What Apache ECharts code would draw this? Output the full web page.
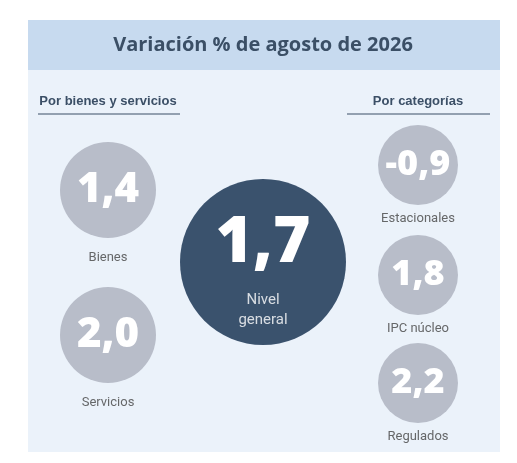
<!DOCTYPE html><html><head><meta charset="utf-8">
<script src="https://cdn.jsdelivr.net/npm/echarts@6/dist/echarts.min.js"></script>
<style>html,body{margin:0;padding:0;background:#fff}#c{width:517px;height:463px}</style></head><body><div id="c"></div>
<script>
const title = 'Variación % de agosto de 2026';
const groupTitles = ['Por bienes y servicios', 'Por categorías'];
const names = ['Bienes', 'Servicios', 'Nivel\ngeneral', 'Estacionales', 'IPC núcleo', 'Regulados'];
const values = [1.4, 2.0, 1.7, -0.9, 1.8, 2.2];
// layout (position x, y, radius) per item
const layout = [[108,190,48],[108,335,48],[263,262,83],[418,165,40],[418,275,40],[418,383,40]];
const fmt = v => v.toFixed(1).replace('.', ',');
const ink = '#3b4f66';
const grey = '#b8bdc9', navy = '#3a526d';
const data = values.map((v,i)=>({
  value:[layout[i][0], layout[i][1], v], symbolSize: layout[i][2]*2,
  itemStyle:{color: i===2?navy:grey, opacity:1},
  label:{show:true, position:'inside', formatter: fmt(v), color:'#fff', fontWeight:800,
    fontFamily:'"Open Sans", sans-serif', fontSize: i===2?64:(i<2?42:36), offset: i===2?[0,-18]:[0,0]}
}));
const labelData = names.map((n,i)=>{
  const big = i===2;
  return {value:[layout[i][0], big ? layout[i][1]+48 : layout[i][1]+layout[i][2]+(i<2?20:14), 0],
    label:{show:true, formatter:n, color: big?'#fff':'#444', fontSize: big?15:13, lineHeight: big?20:16,
      fontFamily:'"Liberation Sans Narrow", Roboto, sans-serif'}};
});
const chart = echarts.init(document.getElementById('c'));
chart.setOption({
  animation:false,
  graphic:[
    {type:'rect', shape:{x:28,y:20,width:472,height:432}, style:{fill:'#ebf2fa'}, z:-10},
    {type:'rect', shape:{x:28,y:20,width:472,height:50}, style:{fill:'#c7daef'}, z:-9},
    {type:'text', x:263, y:45, style:{text:title, fill:ink, font:'bold 20px "Open Sans", sans-serif', textAlign:'center', textVerticalAlign:'middle'}},
    {type:'text', x:108, y:101, style:{text:groupTitles[0], fill:ink, font:'bold 13px "Liberation Sans Narrow", sans-serif', textAlign:'center', textVerticalAlign:'middle'}},
    {type:'text', x:418, y:101, style:{text:groupTitles[1], fill:ink, font:'bold 13px "Liberation Sans Narrow", sans-serif', textAlign:'center', textVerticalAlign:'middle'}},
    {type:'line', shape:{x1:38,y1:114,x2:180,y2:114}, style:{stroke:ink, lineWidth:1}},
    {type:'line', shape:{x1:347,y1:114,x2:490,y2:114}, style:{stroke:ink, lineWidth:1}}
  ],
  grid:{left:0,right:0,top:0,bottom:0},
  xAxis:{type:'value',min:0,max:517,show:false},
  yAxis:{type:'value',min:0,max:463,inverse:true,show:false},
  series:[
    {type:'scatter', data:data, symbol:'circle'},
    {type:'scatter', data:labelData, symbolSize:0}
  ]
});
</script></body></html>
